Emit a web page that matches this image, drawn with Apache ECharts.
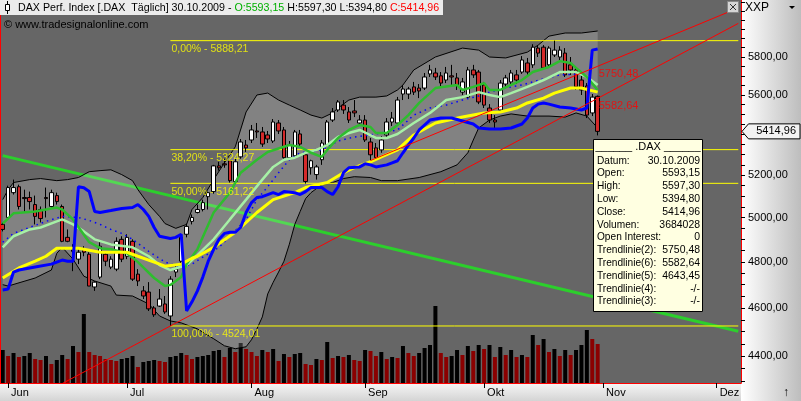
<!DOCTYPE html>
<html><head><meta charset="utf-8">
<script src="https://cdn.jsdelivr.net/npm/echarts@6/dist/echarts.min.js"></script>
<style>html,body{margin:0;padding:0;background:#666666;}#c{width:801px;height:401px;}</style>
</head><body><div id="c"></div>
<script>
const FONT = '"Liberation Sans", Arial, sans-serif';
const fmt = v => v.toFixed(2).replace('.', ',');

// trading-day calendar (weekdays 29.05.2009 - 07.12.2009)
const dates = [];
for (let d = new Date(Date.UTC(2009, 4, 29)); d <= new Date(Date.UTC(2009, 11, 7)); d.setUTCDate(d.getUTCDate() + 1)) {
  const w = d.getUTCDay(); if (w !== 0 && w !== 6) dates.push(d.toISOString().slice(0, 10));
}
const monthNames = ['Jan','Feb','Mär','Apr','Mai','Jun','Jul','Aug','Sep','Okt','Nov','Dez'];

// OHLC (index 0 = 29.05.2009, last = 30.10.2009)
const open = [4969,5001,5117,5145,5094,5094,5061,5038,5094,5052,5103,5052,4910,4856,4812,4856,4834,4690,4733,4834,
4777,4768,4901,4825,4892,4746,4673,4668,4600,4608,4617,4566,4755,4803,4924,4983,5024,5038,5098,5122,
5245,5255,5270,5170,5289,5347,5372,5417,5412,5397,5367,5457,5422,5285,5294,5402,5299,5236,5203,5275,
5347,5472,5523,5548,5513,5518,5457,5472,5362,5333,5323,5397,5462,5457,5605,5605,5642,5636,5636,5710,
5715,5700,5678,5700,5689,5615,5589,5731,5720,5652,5533,5472,5523,5657,5668,5705,5720,5768,5758,5848,
5853,5758,5811,5800,5821,5758,5731,5678,5647,5508,5593.15];
const high = [4978,5150,5179,5155,5131,5122,5103,5052,5141,5131,5117,5061,4946,4879,4856,4870,4843,4715,4888,4847,
4825,4910,4915,4924,4901,4768,4694,4711,4608,4681,4651,4737,4781,4924,4973,5015,5061,5084,5122,5250,
5265,5280,5275,5280,5377,5372,5447,5457,5437,5417,5477,5472,5437,5367,5422,5422,5313,5275,5250,5372,
5472,5533,5574,5574,5538,5574,5497,5497,5382,5357,5392,5482,5513,5590,5652,5642,5668,5657,5715,5758,
5742,5720,5747,5758,5715,5689,5747,5758,5731,5668,5553,5497,5678,5705,5731,5731,5805,5795,5869,5864,
5864,5858,5888.21,5858,5848,5800,5752,5700,5662,5605,5597.30];
const low = [4937,4992,5108,5038,5024,5038,4969,4978,5001,5047,5061,4888,4888,4759,4790,4825,4694,4673,4724,4781,
4768,4759,4799,4812,4716,4694,4638,4587,4562,4604,4575,4524.01,4733,4790,4910,4969,5020,5029,5038,5112,
5222,5236,5165,5160,5280,5313,5357,5382,5338,5357,5357,5402,5275,5275,5285,5338,5160,5203,5179,5250,
5338,5462,5513,5503,5457,5487,5442,5362,5271,5270,5309,5387,5442,5447,5574,5579,5600,5584,5626,5694,
5678,5642,5662,5642,5626,5600,5584,5689,5553,5533,5457,5422,5513,5636,5652,5657,5710,5705,5742,5800,
5731,5742,5800,5784,5694,5705,5626,5600,5482,5492,5394.80];
const close = [4946,5141,5141,5052,5089,5075,5006,4996,5089,5117,5075,4892,4892,4847,4843,4843,4694,4711,4870,4803,
4812,4892,4812,4910,4724,4716,4651,4596,4571,4638,4583,4724,4768,4910,4960,5001,5038,5070,5117,5245,
5236,5250,5174,5265,5362,5333,5422,5412,5352,5377,5462,5417,5285,5347,5412,5352,5170,5270,5240,5357,
5462,5513,5564,5523,5472,5508,5472,5372,5299,5285,5372,5462,5482,5574,5631,5631,5615,5621,5694,5731,
5694,5662,5715,5694,5652,5668,5731,5705,5564,5548,5472,5462,5662,5689,5715,5678,5784,5720,5853,5821,
5742,5848,5837,5837,5705,5731,5642,5626,5497,5589,5414.96];
// volume in thousands
const volumeK = [3117,2550,2834,2456,2550,2834,2267,2173,2550,1795,2173,2645,2267,3495,2928,6518,2928,2645,2550,2267,
2173,2078,2267,2362,2550,1511,1984,2078,2173,2078,1984,2456,2550,2834,2645,2267,2456,2550,2645,3023,
3117,2456,3306,2928,3778,3212,2928,2550,3117,2928,3212,2078,2739,2456,2739,2834,1795,1700,2267,2173,
3873,2362,2550,2456,2645,2173,2078,3117,3023,2550,2928,2267,2456,2362,3495,2834,2550,2834,3306,3589,
7273,2834,2456,2550,3117,2645,3495,3023,3589,3212,3589,2456,3401,2645,3117,2456,2645,2456,4534,3589,
4156,2928,3212,2550,3117,2645,3117,3589,5006,4156,3684.028];

// indicators: [dayIndex, value]
const bbUpper = [[0,5084],[1,5131],[2,5165],[5,5179],[7,5184],[10,5174],[12,5179],[14,5189],[16,5217],[18,5222],[20,5226],[22,5203],[24,5174],[25,5131],[27,5061],[29,5006],[30,4973],[32,4951],[34,4969],[35,5038],[37,5094],[39,5179],[41,5260],[43,5338],[45,5513],[47,5600],[49,5610],[51,5574],[53,5548],[55,5523],[57,5497],[59,5482],[61,5508],[62,5533],[64,5574],[66,5589],[69,5589],[71,5595],[73,5626],[74,5652],[76,5731],[80,5800],[85,5848],[88,5837],[90,5800],[93,5795],[97,5826],[99,5864],[101,5913],[104,5930],[107,5930],[110,5941]];
const bbLower = [[0,4700],[1,4694],[6,4729],[9,4764],[10,4838],[11,4865],[13,4812],[15,4737],[17,4716],[20,4694],[21,4655],[24,4651],[27,4617],[29,4566],[31,4545],[33,4537],[36,4512],[39,4471],[41,4442],[43,4430],[45,4438],[46,4467],[47,4512],[48,4562],[49,4660],[50,4710],[51,4755],[52,4803],[53,4879],[54,4969],[55,5029],[56,5089],[57,5117],[58,5136],[59,5155],[61,5165],[63,5184],[65,5193],[68,5189],[70,5174],[73,5174],[77,5189],[81,5217],[84,5250],[86,5309],[87,5372],[88,5432],[90,5472],[92,5492],[94,5503],[97,5492],[101,5492],[104,5487],[106,5508],[108,5492],[110,5432]];
const maGreen = [[0,4973],[2,5020],[6,5029],[8,5038],[10,5047],[11,5038],[13,4992],[16,4888],[18,4861],[20,4856],[23,4838],[25,4799],[28,4729],[30,4694],[31,4699],[33,4733],[34,4790],[36,4856],[39,5024],[42,5117],[44,5212],[47,5275],[49,5313],[53,5347],[55,5338],[57,5309],[59,5289],[60,5323],[62,5382],[64,5422],[66,5447],[68,5437],[69,5407],[71,5407],[73,5447],[75,5497],[77,5559],[80,5636],[84,5652],[85,5626],[87,5642],[89,5662],[90,5626],[92,5626],[94,5652],[96,5678],[98,5720],[101,5747],[103,5778],[105,5768],[106,5742],[108,5694],[110,5626]];
const maLightGreen = [[0,4865],[2,4915],[5,4946],[7,4955],[10,4983],[11,4992],[13,4969],[15,4937],[17,4901],[20,4878],[24,4865],[27,4825],[29,4786],[31,4764],[34,4786],[36,4830],[39,4901],[42,4992],[45,5084],[48,5179],[50,5240],[52,5275],[54,5285],[56,5309],[58,5323],[60,5347],[62,5387],[64,5407],[66,5422],[69,5382],[71,5382],[73,5402],[76,5457],[79,5508],[82,5574],[85,5589],[88,5615],[90,5600],[92,5589],[94,5610],[97,5642],[100,5678],[103,5720],[106,5720],[108,5694],[110,5652]];
const maYellow = [[0,4729],[3,4773],[6,4803],[8,4825],[10,4861],[14,4861],[16,4852],[18,4843],[23,4843],[25,4825],[28,4799],[30,4781],[33,4790],[35,4816],[36,4825],[39,4865],[43,4933],[47,5024],[50,5084],[54,5117],[56,5141],[60,5165],[63,5212],[65,5236],[68,5265],[70,5289],[73,5323],[76,5397],[80,5457],[85,5487],[89,5508],[92,5513],[95,5533],[97,5559],[100,5584],[102,5610],[105,5636],[107,5636],[110,5615]];
const blueLine = [[0,4677],[1,4681],[2,4755],[3,4764],[6,4777],[9,4790],[11,4808],[12,4803],[13,4803],[14,5145],[15,5140],[16,5122],[17,5029],[18,5024],[20,5033],[22,5043],[24,5047],[25,5061],[26,5038],[27,5006],[28,4955],[29,4915],[31,4905],[32,4910],[33,4924],[34,4587],[35,4626],[36,4673],[37,4733],[38,4803],[39,4856],[40,4901],[41,4928],[42,4933],[43,4933],[44,4955],[45,5024],[46,5070],[47,5094],[48,5098],[50,5117],[51,5108],[52,5122],[54,5117],[55,5108],[56,5122],[57,5141],[59,5141],[60,5122],[61,5108],[62,5145],[63,5212],[64,5236],[66,5240],[67,5255],[68,5250],[69,5240],[71,5250],[72,5260],[73,5270],[74,5309],[75,5347],[76,5382],[77,5422],[78,5447],[79,5472],[81,5482],[83,5482],[85,5467],[87,5452],[88,5432],[90,5427],[92,5427],[94,5432],[96,5452],[97,5482],[98,5533],[99,5553],[100,5559],[101,5553],[103,5538],[105,5533],[107,5523],[108,5533],[109,5837],[110,5843]];
const blueDotted = [[0,4888],[2,4928],[8,4983],[11,5006],[14,5001],[16,4987],[18,4969],[20,4946],[22,4928],[24,4901],[27,4847],[30,4799],[33,4777],[35,4790],[37,4821],[40,4865],[42,4915],[45,4992],[47,5084],[49,5145],[51,5212],[53,5275],[55,5309],[59,5323],[62,5367],[65,5387],[68,5397],[73,5422],[76,5497],[79,5533],[82,5548],[85,5574],[88,5595],[90,5615],[93,5636],[96,5652],[100,5684],[103,5705],[107,5710]];

// trend lines [dayIndex, value]
const trend2 = [[68,5271],[110,5750.48],[136,6069]];
const trend6 = [[0,4166],[31,4524.01],[110,5582.64],[136,5983]];
const trend5 = [[0,5295],[110,4643.45],[136,4502]];

// Fibonacci retracement
const fibLevels = [5888.21, 5324.27, 5161.22, 4524.01];
const fibNames = ['0,00%', '38,20%', '50,00%', '100,00%'];
const fibStart = 31;

// price axis ticks / labels
const priceLabels = [4400, 4600, 4800, 5000, 5200, 5600, 5800];
const priceTicks = [4300,4350,4400,4450,4500,4550,4600,4650,4700,4750,4800,4850,4900,4950,5000,5050,5100,5150,5200,5250,5300,5350,5400,5450,5500,5550,5600,5650,5700,5750,5800,5850,5900,5950,6000,6050,6100];

const last = close.length - 1;
const isMonthStart = i => i > 0 && dates[i].slice(5, 7) !== dates[i - 1].slice(5, 7);

const chart = echarts.init(document.getElementById('c'), null, {width: 801, height: 401});

const lineS = (data, color, width, z, extra) => Object.assign({
  type: 'line', data, symbol: 'none', silent: true, z, clip: true,
  lineStyle: {color, width}, emphasis: {disabled: true}
}, extra || {});

const series = [];
series.push({
  type: 'bar', yAxisIndex: 1, barWidth: 4, silent: true, z: 1,
  data: volumeK.map((v, i) => ({value: v, itemStyle: {color: (i > 0 && v < volumeK[i - 1]) ? '#8b0000' : '#000000'}}))
});
series.push(lineS(trend5, '#2ccf2c', 3, 2));
series.push({
  type: 'custom', silent: true, z: 3, data: [[0, bbUpper[0][1]]],
  renderItem: (params, api) => {
    const up = bbUpper.map(p => api.coord(p));
    const lo = bbLower.map(p => api.coord(p));
    return {type: 'group', children: [
      {type: 'polygon', shape: {points: up.concat(lo.slice().reverse())}, style: {fill: 'rgba(255,255,255,0.19)'}},
      {type: 'polyline', shape: {points: up}, style: {stroke: '#000', lineWidth: 1, fill: null}},
      {type: 'polyline', shape: {points: lo}, style: {stroke: '#000', lineWidth: 1, fill: null}}
    ]};
  }
});
fibLevels.forEach(v => series.push(lineS([[fibStart, v], [dates.length - 1, v]], '#ffff00', 1, 5)));
series.push({
  type: 'candlestick', silent: true, z: 6, barWidth: 4,
  data: open.map((o, i) => [o, close[i], low[i], high[i]]),
  itemStyle: {color: '#ffffff', color0: '#d42a2a', borderColor: '#000000', borderColor0: '#000000', borderWidth: 1}
});
series.push(lineS(blueDotted, '#0000ff', 1.5, 7, {lineStyle: {color: '#0000ff', width: 1.5, type: [1.5, 4]}}));
series.push(lineS(maLightGreen, '#a6f0a6', 2.5, 7));
series.push(lineS(maGreen, '#2ebd2e', 2.5, 7));
series.push(lineS(maYellow, '#ffff00', 3, 7));
series.push(lineS(blueLine, '#0000ff', 3, 7));
series.push(lineS(trend2, '#ff0000', 1, 8));
series.push(lineS(trend6, '#ff0000', 1, 8));
series.push({
  type: 'scatter', silent: true, z: 9, symbolSize: 0,
  data: fibLevels.map((v, k) => ({value: [fibStart, v], name: fibNames[k] + ' - ' + fmt(v)})),
  label: {show: true, formatter: p => p.name, position: [1, 3], align: 'left', verticalAlign: 'top',
    color: '#ffff00', fontSize: 10.5, fontFamily: FONT}
});
series.push({
  type: 'scatter', silent: true, z: 9, symbolSize: 0,
  data: [trend2[1], trend6[2]].map(p => ({value: p, name: fmt(p[1])})),
  label: {show: true, formatter: p => p.name, position: [1, 2], align: 'left', verticalAlign: 'top',
    color: '#ff0000', fontSize: 11, fontFamily: FONT}
});

chart.setOption({
  animation: false,
  backgroundColor: '#666666',
  grid: {left: 0, right: 60, top: 0, bottom: 18, containLabel: false},
  xAxis: {
    type: 'category', data: dates, boundaryGap: true,
    axisLine: {show: true, lineStyle: {color: '#ff0000', width: 1}},
    axisTick: {show: true, alignWithLabel: true, interval: (i) => isMonthStart(i), length: 5, lineStyle: {color: '#000'}},
    axisLabel: {interval: (i) => isMonthStart(i), formatter: v => monthNames[+v.slice(5, 7) - 1],
      align: 'left', padding: [0, 0, 0, 3], margin: 4, color: '#000', fontSize: 11, fontFamily: FONT},
    splitLine: {show: false}
  },
  yAxis: [{
    type: 'log', logBase: 10, min: 4291.9, max: 6113.6, position: 'right',
    axisLine: {show: true, lineStyle: {color: '#ff0000'}},
    axisTick: {show: true, customValues: priceTicks, length: 4, lineStyle: {color: '#000'}},
    axisLabel: {customValues: priceLabels, formatter: v => fmt(v), color: '#000', fontSize: 11, fontFamily: FONT, margin: 7},
    splitLine: {show: false}
  }, {
    type: 'value', min: 0, max: 36178, show: false, splitLine: {show: false}
  }],
  series
});

// overlays
const tagY = chart.convertToPixel({yAxisIndex: 0}, close[last]);
const d = dates[last];
const dateStr = d.slice(8, 10) + '.' + d.slice(5, 7) + '.' + d.slice(0, 4);
const rows = [
  ['Datum:', dateStr], ['Open:', fmt(open[last])], ['High:', fmt(high[last])], ['Low:', fmt(low[last])],
  ['Close:', fmt(close[last])], ['Volumen:', String(Math.round(volumeK[last] * 1000))], ['Open Interest:', '0'],
  ['Trendlinie(2):', fmt(trend2[1][1])], ['Trendlinie(6):', fmt(trend6[2][1])], ['Trendlinie(5):', fmt(trend5[1][1])],
  ['Trendlinie(4):', '-/-'], ['Trendlinie(3):', '-/-']
];
const txt = (x, y, text, fill, align, extra) => Object.assign({type: 'text', x, y, z: 100,
  style: {text, fill: fill || '#000', font: '11px ' + FONT, textAlign: align || 'left', textVerticalAlign: 'middle'}}, extra || {});

const graphic = [
  {type: 'rect', z: -10, shape: {x: 741, y: 0, width: 60, height: 401},
    style: {fill: new echarts.graphic.LinearGradient(0, 0, 1, 0, [{offset: 0, color: '#ffffff'}, {offset: 1, color: '#bdbdbd'}])}},
  {type: 'rect', z: -10, shape: {x: 0, y: 383, width: 741, height: 18},
    style: {fill: new echarts.graphic.LinearGradient(0, 0, 0, 1, [{offset: 0, color: '#f6f6f6'}, {offset: 1, color: '#d4d4d4'}])}},
  {type: 'line', z: 100, shape: {x1: 0.5, y1: 0, x2: 0.5, y2: 384}, style: {stroke: '#ff0000', lineWidth: 1}},
  // header
  {type: 'rect', z: 100, shape: {x: 0, y: 0, width: 443, height: 15}, style: {fill: '#ececec'}},
  {type: 'line', z: 101, shape: {x1: 7.5, y1: 1, x2: 7.5, y2: 14}, style: {stroke: '#000', lineWidth: 1}},
  {type: 'rect', z: 102, shape: {x: 5.5, y: 4.5, width: 4, height: 6}, style: {fill: '#fff', stroke: '#000', lineWidth: 1}},
  {type: 'text', x: 18, y: 8, z: 101, scaleX: 0.97, style: {
    text: '{k|DAX Perf. Index [.DAX  Täglich] ' + dateStr + ' - }{g|O:' + fmt(open[last]) + '}{k| H:' + fmt(high[last]) + ' L:' + fmt(low[last]) + ' }{r|C:' + fmt(close[last]) + '}',
    textVerticalAlign: 'middle', font: '11px ' + FONT,
    rich: {k: {fill: '#000', font: '11px ' + FONT}, g: {fill: '#00b000', font: '11px ' + FONT}, r: {fill: '#ff0000', font: '11px ' + FONT}}}},
  txt(4, 25, '© www.tradesignalonline.com', '#000'),
  // close button
  {type: 'rect', z: 100, shape: {x: 727.5, y: 1.5, width: 11, height: 11}, style: {fill: '#d6d6d6', stroke: '#8a8a8a', lineWidth: 1}},
  {type: 'line', z: 101, shape: {x1: 730, y1: 4, x2: 736, y2: 10}, style: {stroke: '#333', lineWidth: 1}},
  {type: 'line', z: 101, shape: {x1: 736, y1: 4, x2: 730, y2: 10}, style: {stroke: '#333', lineWidth: 1}},
  // XXP
  {type: 'text', x: 745, y: 8, z: 100, style: {text: 'XXP', fill: '#000', font: '12px ' + FONT, textVerticalAlign: 'middle'}},
  {type: 'polygon', z: 100, shape: {points: [[789, 6], [795, 6], [792, 9]]}, style: {fill: '#000'}},
  {type: 'text', x: 786, y: 393, z: 100, style: {text: '↑', fill: '#000', font: '12px ' + FONT, textAlign: 'center', textVerticalAlign: 'middle'}},
  // last price tag
  {type: 'polygon', z: 100, shape: {points: [[742, tagY], [748.5, tagY - 7.5], [800, tagY - 7.5], [800, tagY + 7.5], [748.5, tagY + 7.5]]},
    style: {fill: '#f2f2f2', stroke: '#000', lineWidth: 1}},
  txt(796, tagY, fmt(close[last]), '#000', 'right'),
  // info box
  {type: 'rect', z: 100, shape: {x: 593.5, y: 139.5, width: 109, height: 172}, style: {fill: '#ffffe1', stroke: '#000', lineWidth: 1}},
  txt(648, 147, '______ .DAX ______', '#000', 'center')
];
rows.forEach((r, k) => {
  const y = 160.5 + k * 12.8;
  graphic.push(txt(597, y, r[0], '#000', 'left', {scaleX: 0.92}));
  graphic.push(txt(700, y, r[1], '#000', 'right', {scaleX: 0.95}));
});
chart.setOption({graphic});
</script></body></html>
